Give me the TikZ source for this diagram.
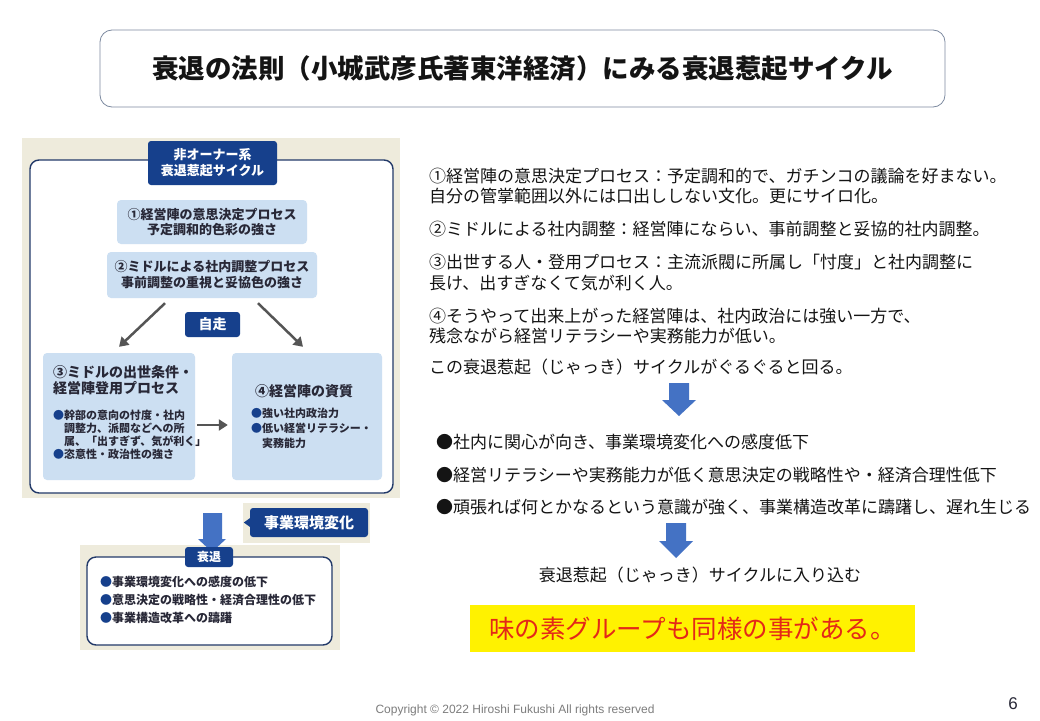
\documentclass[tikz,border=0pt]{standalone}
\usepackage{fontspec}
\newfontfamily\jp{Noto Sans CJK JP}
\newfontfamily\lat{Liberation Sans}
\usetikzlibrary{arrows.meta,calc}
\definecolor{navy}{RGB}{22,64,140}
\definecolor{lblue}{RGB}{204,223,242}
\definecolor{beige}{RGB}{238,235,220}
\definecolor{framec}{RGB}{35,58,105}
\definecolor{barrow}{RGB}{68,114,196}
\definecolor{garrow}{RGB}{85,85,85}
\definecolor{redtxt}{RGB}{228,40,24}
\definecolor{titleb}{RGB}{125,138,160}
\definecolor{txt}{RGB}{20,20,20}
\definecolor{dtxt}{RGB}{40,40,55}
\definecolor{copyc}{RGB}{125,125,125}
\newcommand{\fsz}[1]{\fontsize{#1}{#1}\selectfont}
\begin{document}
\begin{tikzpicture}[x=1pt,y=-1pt,
  every node/.style={inner sep=0pt,font=\jp},
  navybox/.style={fill=navy,rounded corners=3pt,text=white,align=center},
  lbbox/.style={fill=lblue,rounded corners=4pt,align=center,text=dtxt},
  rtext/.style={anchor=west,font=\jp\fsz{17},text=txt},
  ltext/.style={anchor=west,font=\jp\bfseries\fsz{11},text=dtxt},
  lhead/.style={anchor=west,font=\jp\bfseries\fsz{14},text=dtxt},
  btext/.style={anchor=west,font=\jp\bfseries\fsz{12},text=dtxt},
  garr/.style={draw=garrow,line width=2.5pt,-{Triangle[length=9pt,width=11pt]}},
  blockarrow/.style={fill=barrow},
  wframe/.style={fill=white,draw=framec,line width=1.4pt,rounded corners=9pt},
 ]
\useasboundingbox (0,0) rectangle (1040,720);
\fill[white] (0,0) rectangle (1040,720);

% title
\node[draw=titleb,line width=0.8pt,rounded corners=12pt,minimum width=845pt,minimum height=77pt,
  font=\jp\bfseries\fsz{26.5},text=txt] (title) at (522.5,68.5) {衰退の法則（小城武彦氏著東洋経済）にみる衰退惹起サイクル};

% ---------- left figure ----------
\fill[beige] (22,138) rectangle (400,498);
\draw[wframe] (30,160) rectangle (393,493);
\node[navybox,minimum width=129pt,minimum height=44pt,font=\jp\bfseries\fontsize{13}{16}\selectfont] (hdr) at (212.5,163) {非オーナー系\\衰退惹起サイクル};
\node[lbbox,minimum width=190pt,minimum height=44pt,font=\jp\bfseries\fontsize{13}{15.5}\selectfont] (b1) at (212,222) {①経営陣の意思決定プロセス\\予定調和的色彩の強さ};
\node[lbbox,minimum width=210pt,minimum height=46pt,font=\jp\bfseries\fontsize{13}{16}\selectfont] (b2) at (212,275) {②ミドルによる社内調整プロセス\\事前調整の重視と妥協色の強さ};
\node[navybox,minimum width=55pt,minimum height=25pt,font=\jp\bfseries\fsz{14}] (jiso) at (212.5,324.5) {自走};
\node[lbbox,minimum width=152pt,minimum height=127pt] (b3) at (119,416.5) {};
\node[lbbox,minimum width=150pt,minimum height=127pt] (b4) at (307,416.5) {};

\draw[garr] ([shift={(-47,5)}]b2.south) -- ([shift={(0,-6)}]b3.north);
\draw[garr] ([shift={(46,5)}]b2.south) -- ([shift={(-4,-6)}]b4.north);
\draw[garr] ($(b3.east)+(2,8.5)$) -- ($(b4.west)+(-4,8.5)$);

\node[lhead] (b3h1) at (53,372) {③ミドルの出世条件・};
\node[lhead] (b3h2) at (53,388) {経営陣登用プロセス};
\node[ltext] (b3l1) at (53,415) {\textcolor{navy}{●}幹部の意向の忖度・社内};
\node[ltext] (b3l2) at (64,428) {調整力、派閥などへの所};
\node[ltext] (b3l3) at (64,441) {属、「出すぎず、気が利く」};
\node[ltext] (b3l4) at (53,454) {\textcolor{navy}{●}恣意性・政治性の強さ};

\node[lhead] (b4h) at (255,391) {④経営陣の資質};
\node[ltext] (b4l1) at (251,413) {\textcolor{navy}{●}強い社内政治力};
\node[ltext] (b4l2) at (251,428) {\textcolor{navy}{●}低い経営リテラシー・};
\node[ltext] (b4l3) at (262,443) {実務能力};

% change label
\fill[beige] (243,503) rectangle (370,543);
\node[navybox,minimum width=118pt,minimum height=29pt,font=\jp\bfseries\fsz{15}] (chg) at (309,522.5) {事業環境変化};
\fill[navy] ($(chg.west)+(1,-5)$) -- ($(chg.west)+(-6,0)$) -- ($(chg.west)+(1,5)$) -- cycle;

% bottom panel
\fill[beige] (80,545) rectangle (340,650);
\draw[wframe] (87,557) rectangle (332,645);
\fill[blockarrow] (203,513) -- (222,513) -- (222,539) -- (226,539) -- (212,552) -- (198,539) -- (203,539) -- cycle;
\node[navybox,minimum width=48pt,minimum height=20pt,font=\jp\bfseries\fsz{12}] (sui) at (209,557) {衰退};
\node[btext] (s1) at (100,582) {\textcolor{navy}{●}事業環境変化への感度の低下};
\node[btext] (s2) at (100,600) {\textcolor{navy}{●}意思決定の戦略性・経済合理性の低下};
\node[btext] (s3) at (100,618) {\textcolor{navy}{●}事業構造改革への躊躇};

% ---------- right text ----------
\node[rtext] (r1a) at (429,176) {①経営陣の意思決定プロセス：予定調和的で、ガチンコの議論を好まない。};
\node[rtext] (r1b) at (429,196) {自分の管掌範囲以外には口出ししない文化。更にサイロ化。};
\node[rtext] (r2) at (429,229) {②ミドルによる社内調整：経営陣にならい、事前調整と妥協的社内調整。};
\node[rtext] (r3a) at (429,262) {③出世する人・登用プロセス：主流派閥に所属し「忖度」と社内調整に};
\node[rtext] (r3b) at (429,283) {長け、出すぎなくて気が利く人。};
\node[rtext] (r4a) at (429,316) {④そうやって出来上がった経営陣は、社内政治には強い一方で、};
\node[rtext] (r4b) at (429,336) {残念ながら経営リテラシーや実務能力が低い。};
\node[rtext] (r5) at (429,367) {この衰退惹起（じゃっき）サイクルがぐるぐると回る。};

\fill[blockarrow] (669,383) -- (689,383) -- (689,400) -- (696,400) -- (679,416) -- (662,400) -- (669,400) -- cycle;

\node[rtext] (p1) at (436,442) {●社内に関心が向き、事業環境変化への感度低下};
\node[rtext] (p2) at (436,475) {●経営リテラシーや実務能力が低く意思決定の戦略性や・経済合理性低下};
\node[rtext] (p3) at (436,507) {●頑張れば何とかなるという意識が強く、事業構造改革に躊躇し、遅れ生じる};

\fill[blockarrow] (666,523) -- (686,523) -- (686,541) -- (693,541) -- (676,558) -- (659,541) -- (666,541) -- cycle;

\node[font=\jp\fsz{17},text=txt] (enter) at (700,575) {衰退惹起（じゃっき）サイクルに入り込む};

\node[fill=yellow,minimum width=445pt,minimum height=47pt,font=\jp\fsz{25.5},text=redtxt] (yel) at (692.5,628.5) {味の素グループも同様の事がある。};

\node[font=\lat\fsz{12},text=copyc] (copy) at (515,710) {Copyright © 2022 Hiroshi Fukushi All rights reserved};
\node[font=\lat\fsz{17},text=dtxt] (pg) at (1013,704) {6};
\end{tikzpicture}
\end{document}
